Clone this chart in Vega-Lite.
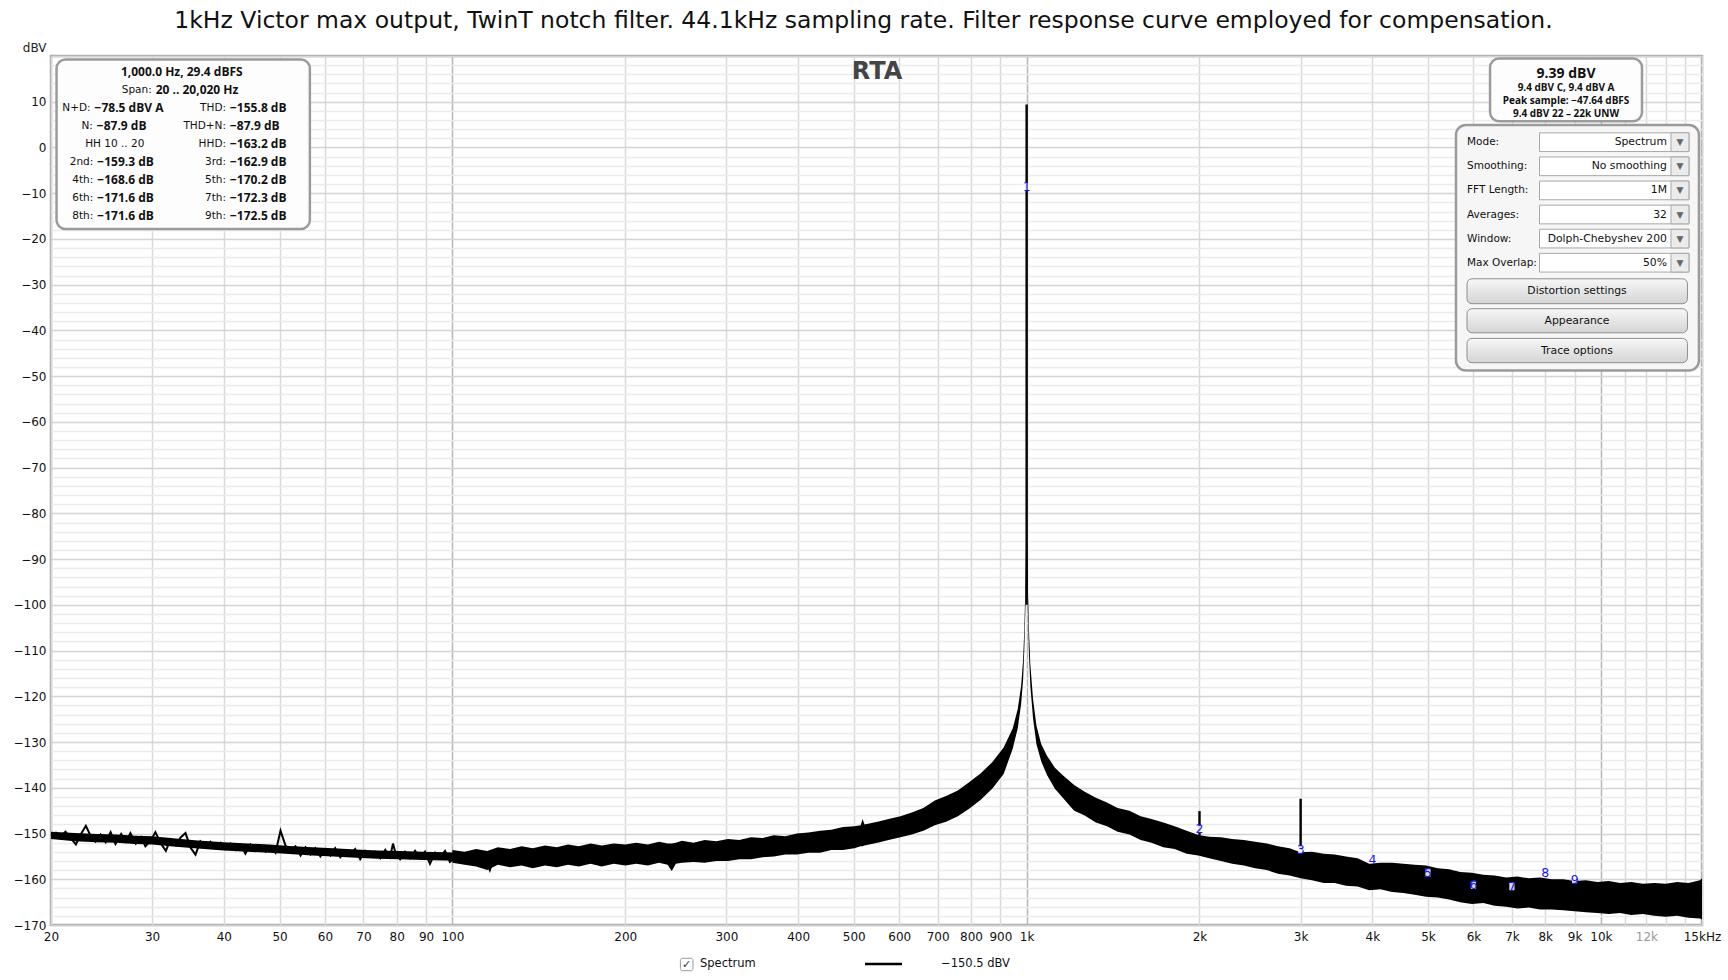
{
"$schema": "https://vega.github.io/schema/vega-lite/v6.json",
"width": 1651, "height": 869,
"autosize": {"type": "none"},
"padding": {"left": 51, "top": 56, "right": 26, "bottom": 55},
"background": "white",
"title": {"text": "1kHz Victor max output, TwinT notch filter. 44.1kHz sampling rate. Filter response curve employed for compensation.", "font": "DejaVu Sans", "fontSize": 23.5, "fontWeight": "normal", "color": "#111", "anchor": "middle", "frame": "group", "baseline": "alphabetic", "offset": -10, "dx": -13},
"config": {"view": {"stroke": "#a6a6a6", "strokeWidth": 2.5}, "font": "DejaVu Sans"},
"datasets": {
"core": [
{"f":20,"db":-149.6,"db2":-151.2},{"f":22,"db":-149.9,"db2":-151.7},{"f":24,"db":-150.1,"db2":-151.9},{"f":26,"db":-150.2,"db2":-152.0},{"f":28,"db":-150.5,"db2":-152.3},{"f":30,"db":-150.6,"db2":-152.4},{"f":33,"db":-151.1,"db2":-152.9},{"f":36,"db":-151.5,"db2":-153.3},{"f":40,"db":-151.9,"db2":-153.7},{"f":44,"db":-152.2,"db2":-154.0},{"f":48,"db":-152.4,"db2":-154.2},{"f":52,"db":-152.7,"db2":-154.5},{"f":57,"db":-153.0,"db2":-154.8},{"f":62,"db":-153.2,"db2":-155.0},{"f":68,"db":-153.5,"db2":-155.3},{"f":74,"db":-153.7,"db2":-155.5},{"f":81,"db":-153.8,"db2":-155.6},{"f":89,"db":-154.0,"db2":-155.8},{"f":97,"db":-154.1,"db2":-155.9},{"f":106,"db":-154.2,"db2":-156.0},{"f":116,"db":-154.4,"db2":-156.2}
],
"noise": [
{"f":20,"db":-150.3},{"f":20.4,"db":-149.8},{"f":20.8,"db":-150.6},{"f":21.2,"db":-149.6},{"f":21.6,"db":-150.9},{"f":22.1,"db":-152.4},{"f":22.5,"db":-150.3},{"f":23.0,"db":-148.3},{"f":23.5,"db":-150.8},{"f":23.9,"db":-151.8},{"f":24.4,"db":-150.2},{"f":24.9,"db":-151.9},{"f":25.4,"db":-149.7},{"f":25.9,"db":-152.3},{"f":26.5,"db":-150.1},{"f":27.0,"db":-151.8},{"f":27.5,"db":-149.9},{"f":28.1,"db":-152.2},{"f":28.7,"db":-150.8},{"f":29.2,"db":-152.8},{"f":29.8,"db":-151.6},{"f":30.4,"db":-149.7},{"f":31.0,"db":-152.0},{"f":31.7,"db":-153.8},{"f":32.3,"db":-151.3},{"f":33.0,"db":-152.6},{"f":33.6,"db":-150.9},{"f":34.3,"db":-149.9},{"f":35.0,"db":-153.1},{"f":35.7,"db":-154.6},{"f":36.4,"db":-151.7},{"f":37.2,"db":-152.8},{"f":37.9,"db":-151.8},{"f":38.7,"db":-153.2},{"f":39.5,"db":-152.0},{"f":40.3,"db":-153.4},{"f":41.1,"db":-152.2},{"f":41.9,"db":-153.6},{"f":42.8,"db":-152.4},{"f":43.6,"db":-154.4},{"f":44.5,"db":-152.4},{"f":45.4,"db":-153.8},{"f":46.3,"db":-152.6},{"f":47.3,"db":-154.0},{"f":48.2,"db":-152.8},{"f":49.2,"db":-154.2},{"f":50.2,"db":-149.4},{"f":51.2,"db":-152.6},{"f":52.2,"db":-153.8},{"f":53.3,"db":-152.8},{"f":54.4,"db":-154.8},{"f":55.5,"db":-153.0},{"f":56.6,"db":-154.6},{"f":57.7,"db":-153.2},{"f":58.9,"db":-155.0},{"f":60.1,"db":-153.4},{"f":61.3,"db":-154.8},{"f":62.5,"db":-153.2},{"f":63.8,"db":-155.2},{"f":65.1,"db":-153.8},{"f":66.4,"db":-154.6},{"f":67.7,"db":-153.4},{"f":69.1,"db":-155.6},{"f":70.5,"db":-153.8},{"f":71.9,"db":-155.0},{"f":73.4,"db":-154.0},{"f":74.9,"db":-155.4},{"f":76.4,"db":-153.6},{"f":77.9,"db":-155.2},{"f":78.8,"db":-152.2},{"f":79.5,"db":-154.0},{"f":81.1,"db":-155.6},{"f":82.7,"db":-154.0},{"f":84.4,"db":-155.4},{"f":86.1,"db":-153.8},{"f":87.8,"db":-155.4},{"f":89.6,"db":-154.0},{"f":91.4,"db":-156.6},{"f":93.3,"db":-154.2},{"f":95.2,"db":-155.2},{"f":97.1,"db":-153.8},{"f":99.0,"db":-156.2},{"f":101,"db":-155.4},{"f":103,"db":-154.4},{"f":105.1,"db":-156.0},{"f":107.3,"db":-154.4},{"f":109.4,"db":-155.8},{"f":111.6,"db":-154.6},{"f":113.9,"db":-155.4},{"f":116.2,"db":-158.0},{"f":118.5,"db":-154.8},{"f":120.9,"db":-156.2},{"f":123.4,"db":-154.6},{"f":125.9,"db":-156.6},{"f":128.4,"db":-154.8},{"f":131,"db":-156.4},{"f":133.7,"db":-154.6},{"f":136.4,"db":-156.4},{"f":139.1,"db":-154.8},{"f":141.9,"db":-156.6},{"f":144.8,"db":-154.6},{"f":147.7,"db":-156.6},{"f":150.7,"db":-155.0}
],
"band": [
{"f":100,"db":-153.6,"db2":-156.4},{"f":105,"db":-154.0,"db2":-156.8},{"f":110,"db":-153.4,"db2":-157.2},{"f":115,"db":-153.8,"db2":-158.0},{"f":120,"db":-153.0,"db2":-156.8},{"f":126,"db":-153.4,"db2":-157.4},{"f":132,"db":-152.8,"db2":-157.0},{"f":138,"db":-153.2,"db2":-157.6},{"f":145,"db":-152.6,"db2":-157.0},{"f":152,"db":-153.0,"db2":-157.4},{"f":159,"db":-152.4,"db2":-156.8},{"f":166,"db":-152.8,"db2":-157.2},{"f":174,"db":-152.2,"db2":-156.6},{"f":182,"db":-152.6,"db2":-157.2},{"f":191,"db":-152.2,"db2":-156.6},{"f":200,"db":-152.4,"db2":-157.0},{"f":209,"db":-152.0,"db2":-156.6},{"f":219,"db":-152.4,"db2":-157.0},{"f":229,"db":-151.8,"db2":-156.4},{"f":237,"db":-152.2,"db2":-156.8},{"f":241,"db":-152.2,"db2":-158.2},{"f":245,"db":-152.0,"db2":-156.6},{"f":251,"db":-151.6,"db2":-156.4},{"f":263,"db":-152.0,"db2":-156.2},{"f":275,"db":-151.4,"db2":-156.4},{"f":288,"db":-151.7,"db2":-156.0},{"f":302,"db":-151.2,"db2":-156.0},{"f":316,"db":-151.4,"db2":-155.6},{"f":331,"db":-150.8,"db2":-155.6},{"f":347,"db":-151.0,"db2":-155.2},{"f":363,"db":-150.4,"db2":-155.0},{"f":380,"db":-150.6,"db2":-154.6},{"f":398,"db":-150.0,"db2":-154.6},{"f":417,"db":-149.8,"db2":-154.2},{"f":437,"db":-149.4,"db2":-154.2},{"f":457,"db":-149.2,"db2":-153.6},{"f":479,"db":-148.6,"db2":-153.6},{"f":501,"db":-148.4,"db2":-153.2},{"f":514,"db":-148.2,"db2":-152.8},{"f":518,"db":-146.8,"db2":-152.8},{"f":522,"db":-148.0,"db2":-152.6},{"f":550,"db":-147.4,"db2":-152.0},{"f":575,"db":-146.8,"db2":-151.4},{"f":603,"db":-146.2,"db2":-150.8},{"f":631,"db":-145.4,"db2":-150.2},{"f":661,"db":-144.4,"db2":-149.4},{"f":692,"db":-142.8,"db2":-148.2},{"f":724,"db":-141.8,"db2":-147.4},{"f":759,"db":-140.6,"db2":-146.2},{"f":794,"db":-138.8,"db2":-144.6},{"f":832,"db":-136.8,"db2":-142.6},{"f":871,"db":-134.4,"db2":-140.2},{"f":912,"db":-131.2,"db2":-137.0},{"f":946,"db":-127.0,"db2":-131.4},{"f":965,"db":-122.8,"db2":-127.0},{"f":978,"db":-117.8,"db2":-121.8},{"f":986,"db":-112.0,"db2":-116.4},{"f":991,"db":-105.0,"db2":-109.4},{"f":995,"db":-96.0,"db2":-101.0},{"f":998,"db":-86.0,"db2":-95.0},{"f":1002,"db":-86.0,"db2":-95.0},{"f":1005,"db":-96.0,"db2":-101.0},{"f":1009,"db":-105.0,"db2":-110.0},{"f":1015,"db":-113.0,"db2":-117.8},{"f":1026,"db":-120.6,"db2":-124.8},{"f":1040,"db":-126.4,"db2":-130.4},{"f":1060,"db":-130.4,"db2":-134.2},{"f":1085,"db":-133.0,"db2":-137.2},{"f":1120,"db":-135.6,"db2":-140.2},{"f":1160,"db":-137.4,"db2":-142.4},{"f":1210,"db":-139.4,"db2":-145.0},{"f":1260,"db":-140.8,"db2":-146.0},{"f":1320,"db":-142.2,"db2":-147.6},{"f":1380,"db":-143.2,"db2":-148.4},{"f":1440,"db":-144.4,"db2":-149.6},{"f":1510,"db":-145.0,"db2":-150.2},{"f":1580,"db":-146.2,"db2":-151.4},{"f":1650,"db":-146.8,"db2":-152.0},{"f":1730,"db":-147.6,"db2":-153.0},{"f":1810,"db":-148.4,"db2":-153.4},{"f":1900,"db":-149.4,"db2":-154.4},{"f":1990,"db":-150.3,"db2":-154.8},{"f":2080,"db":-150.7,"db2":-155.4},{"f":2180,"db":-150.8,"db2":-156.0},{"f":2280,"db":-151.2,"db2":-156.6},{"f":2390,"db":-151.4,"db2":-157.0},{"f":2500,"db":-151.8,"db2":-157.6},{"f":2620,"db":-152.2,"db2":-158.0},{"f":2740,"db":-152.8,"db2":-158.8},{"f":2870,"db":-153.2,"db2":-159.2},{"f":3000,"db":-154.1,"db2":-159.8},{"f":3140,"db":-154.0,"db2":-160.2},{"f":3290,"db":-154.4,"db2":-160.8},{"f":3440,"db":-154.6,"db2":-160.8},{"f":3600,"db":-155.0,"db2":-161.4},{"f":3770,"db":-155.4,"db2":-161.6},{"f":3950,"db":-156.6,"db2":-162.4},{"f":4130,"db":-156.4,"db2":-162.2},{"f":4330,"db":-156.4,"db2":-162.8},{"f":4530,"db":-156.6,"db2":-163.0},{"f":4740,"db":-156.8,"db2":-163.4},{"f":4960,"db":-157.0,"db2":-163.8},{"f":5200,"db":-157.6,"db2":-164.0},{"f":5440,"db":-157.8,"db2":-164.4},{"f":5690,"db":-158.4,"db2":-165.0},{"f":5960,"db":-158.6,"db2":-165.4},{"f":6240,"db":-159.0,"db2":-165.2},{"f":6530,"db":-159.2,"db2":-165.8},{"f":6840,"db":-159.6,"db2":-166.0},{"f":7160,"db":-159.4,"db2":-166.4},{"f":7490,"db":-159.8,"db2":-166.2},{"f":7840,"db":-159.6,"db2":-166.6},{"f":8210,"db":-160.0,"db2":-166.6},{"f":8600,"db":-160.0,"db2":-166.8},{"f":9000,"db":-160.4,"db2":-167.0},{"f":9420,"db":-160.2,"db2":-167.2},{"f":9860,"db":-160.6,"db2":-167.4},{"f":10320,"db":-160.4,"db2":-167.6},{"f":10800,"db":-160.8,"db2":-167.4},{"f":11300,"db":-160.6,"db2":-167.8},{"f":11830,"db":-161.0,"db2":-167.6},{"f":12390,"db":-160.8,"db2":-168.0},{"f":12970,"db":-161.0,"db2":-168.2},{"f":13580,"db":-160.6,"db2":-168.0},{"f":14210,"db":-160.8,"db2":-168.4},{"f":14880,"db":-160.2,"db2":-168.6},{"f":15000,"db":-159.8,"db2":-168.8}
],
"spikes": [{"f":1000,"db":9.4,"db2":-100},{"f":2000,"db":-145.1,"db2":-150.5},{"f":3000,"db":-142.4,"db2":-153.5}],
"harm": [{"f":1000,"db":-8.57,"t":"1"},{"f":2000,"db":-149.1,"t":"2"},{"f":3000,"db":-153.5,"t":"3"},{"f":4000,"db":-155.7,"t":"4"},{"f":5000,"db":-158.6,"t":"5"},{"f":6000,"db":-161.3,"t":"6"},{"f":7000,"db":-161.6,"t":"7"},{"f":8000,"db":-158.6,"t":"8"},{"f":9000,"db":-160.1,"t":"9"}],
"rta": [{"f":548.8,"db":16.57,"t":"RTA"}],
"lbox": [{"f":20.45,"f2":56.47,"db":19.26,"db2":-17.83}],
"lb_cb": [{"f":33.79,"db":16.4,"t":"1,000.0 Hz, 29.4 dBFS"}],
"lb_cr": [{"f":25.83,"db":0.75,"t":"HH 10 .. 20"}],
"lb_lab": [
{"f":30.19,"db":12.49,"t":"Span:"},{"f":23.63,"db":8.57,"t":"N+D:"},{"f":40.67,"db":8.57,"t":"THD:"},{"f":23.84,"db":4.66,"t":"N:"},{"f":40.67,"db":4.66,"t":"THD+N:"},{"f":40.67,"db":0.75,"t":"HHD:"},{"f":23.89,"db":-3.17,"t":"2nd:"},{"f":40.67,"db":-3.17,"t":"3rd:"},{"f":23.89,"db":-7.08,"t":"4th:"},{"f":40.67,"db":-7.08,"t":"5th:"},{"f":23.89,"db":-10.99,"t":"6th:"},{"f":40.67,"db":-10.99,"t":"7th:"},{"f":23.89,"db":-14.9,"t":"8th:"},{"f":40.67,"db":-14.9,"t":"9th:"}],
"lb_val": [
{"f":30.19,"db":12.49,"t":"20 .. 20,020 Hz"},{"f":23.63,"db":8.57,"t":"−78.5 dBV A"},{"f":40.67,"db":8.57,"t":"−155.8 dB"},{"f":23.84,"db":4.66,"t":"−87.9 dB"},{"f":40.67,"db":4.66,"t":"−87.9 dB"},{"f":40.67,"db":0.75,"t":"−163.2 dB"},{"f":23.89,"db":-3.17,"t":"−159.3 dB"},{"f":40.67,"db":-3.17,"t":"−162.9 dB"},{"f":23.89,"db":-7.08,"t":"−168.6 dB"},{"f":40.67,"db":-7.08,"t":"−170.2 dB"},{"f":23.89,"db":-10.99,"t":"−171.6 dB"},{"f":40.67,"db":-10.99,"t":"−172.3 dB"},{"f":23.89,"db":-14.9,"t":"−171.6 dB"},{"f":40.67,"db":-14.9,"t":"−172.5 dB"}],
"tbox": [{"f":6412,"f2":11792,"db":19.48,"db2":5.72}],
"tb_big": [{"f":8696,"db":16.0,"t":"9.39 dBV"}],
"tb_small": [{"f":8696,"db":13.1,"t":"9.4 dBV C, 9.4 dBV A"},{"f":8696,"db":10.25,"t":"Peak sample: −47.64 dBFS"},{"f":8696,"db":7.4,"t":"9.4 dBV 22 – 22k UNW"}],
"panel": [{"f":5593,"f2":14818,"db":4.91,"db2":-48.76}],
"ddbox": [{"f":7818,"f2":14236,"db":3.197,"db2":-0.891},{"f":7818,"f2":14236,"db":-2.072,"db2":-6.16},{"f":7818,"f2":14236,"db":-7.341,"db2":-11.429},{"f":7818,"f2":14236,"db":-12.611,"db2":-16.699},{"f":7818,"f2":14236,"db":-17.88,"db2":-21.968},{"f":7818,"f2":14236,"db":-23.149,"db2":-27.237}],
"ddarrow": [{"f":13246,"f2":14236,"db":3.197,"db2":-0.891},{"f":13246,"f2":14236,"db":-2.072,"db2":-6.16},{"f":13246,"f2":14236,"db":-7.341,"db2":-11.429},{"f":13246,"f2":14236,"db":-12.611,"db2":-16.699},{"f":13246,"f2":14236,"db":-17.88,"db2":-21.968},{"f":13246,"f2":14236,"db":-23.149,"db2":-27.237}],
"ddglyph": [{"f":13732,"db":1.153,"t":"▼"},{"f":13732,"db":-4.116,"t":"▼"},{"f":13732,"db":-9.385,"t":"▼"},{"f":13732,"db":-14.655,"t":"▼"},{"f":13732,"db":-19.924,"t":"▼"},{"f":13732,"db":-25.193,"t":"▼"}],
"ddlab": [{"f":5846,"db":1.153,"t":"Mode:"},{"f":5846,"db":-4.116,"t":"Smoothing:"},{"f":5846,"db":-9.385,"t":"FFT Length:"},{"f":5846,"db":-14.655,"t":"Averages:"},{"f":5846,"db":-19.924,"t":"Window:"},{"f":5846,"db":-25.193,"t":"Max Overlap:"}],
"ddval": [{"f":13034,"db":1.153,"t":"Spectrum"},{"f":13034,"db":-4.116,"t":"No  smoothing"},{"f":13034,"db":-9.385,"t":"1M"},{"f":13034,"db":-14.655,"t":"32"},{"f":13034,"db":-19.924,"t":"Dolph-Chebyshev 200"},{"f":13034,"db":-25.193,"t":"50%"}],
"btn": [{"f":5846,"f2":14150,"db":-28.71,"db2":-34.16},{"f":5846,"f2":14150,"db":-35.25,"db2":-40.52},{"f":5846,"f2":14150,"db":-41.74,"db2":-47.06}],
"btntext": [{"f":9088,"db":-31.44,"t":"Distortion settings"},{"f":9088,"db":-37.89,"t":"Appearance"},{"f":9088,"db":-44.4,"t":"Trace options"}],
"chk": [{"f":249.5,"f2":262.4,"db":-177.28,"db2":-179.99}],
"chkglyph": [{"f":255.9,"db":-178.64,"t":"✓"}],
"legtext": [{"f":269.9,"db":-178.6,"t":"Spectrum"},{"f":709.5,"db":-178.6,"t":"−150.5 dBV"}],
"legline": [{"f":523,"f2":606.7,"db":-178.53}]
},
"encoding": {
"x": {"field": "f", "type": "quantitative", "title": null,
 "scale": {"type": "log", "domain": [20, 15000], "nice": false},
 "axis": {"values": [20,30,40,50,60,70,80,90,100,200,300,400,500,600,700,800,900,1000,2000,3000,4000,5000,6000,7000,8000,9000,10000,11000,12000,13000,14000,14999.5],
  "tickCount": 200,
  "labelExpr": "datum.value == 11000 || datum.value == 13000 || datum.value == 14000 ? '' : datum.value > 14500 ? '15kHz' : datum.value >= 1000 ? (datum.value / 1000) + 'k' : '' + datum.value",
  "labelColor": {"expr": "datum.value == 12000 ? '#999999' : '#111111'"},
  "gridColor": {"expr": "datum.value == 100 || datum.value == 1000 || datum.value == 10000 ? '#b6b6b6' : '#d9d9d9'"},
  "gridWidth": 1.5, "ticks": false, "domain": false, "labelPadding": 6, "labelBaseline": "top",
  "labelFontSize": 12, "labelFont": "DejaVu Sans", "labelFlush": false, "labelOverlap": false}},
"y": {"field": "db", "type": "quantitative", "title": "dBV",
 "scale": {"domain": [-170, 20], "nice": false, "zero": false},
 "axis": {"values": [-170,-168,-166,-164,-162,-160,-158,-156,-154,-152,-150,-148,-146,-144,-142,-140,-138,-136,-134,-132,-130,-128,-126,-124,-122,-120,-118,-116,-114,-112,-110,-108,-106,-104,-102,-100,-98,-96,-94,-92,-90,-88,-86,-84,-82,-80,-78,-76,-74,-72,-70,-68,-66,-64,-62,-60,-58,-56,-54,-52,-50,-48,-46,-44,-42,-40,-38,-36,-34,-32,-30,-28,-26,-24,-22,-20,-18,-16,-14,-12,-10,-8,-6,-4,-2,0,2,4,6,8,10,12,14,16,18,20],
  "tickCount": 300, "format": "d",
  "labelExpr": "datum.value % 10 == 0 && datum.value < 20 ? datum.label : ''",
  "gridColor": {"expr": "datum.value % 10 == 0 ? '#d4d4d4' : '#ebebeb'"},
  "gridWidth": {"expr": "datum.value % 10 == 0 ? 1.6 : 1.3"},
  "ticks": false, "domain": false, "labelPadding": 5, "labelFontSize": 12, "labelColor": "#111111", "labelFont": "DejaVu Sans", "labelOverlap": false,
  "titleAngle": 0, "titleAlign": "right", "titleBaseline": "middle", "titleX": -5, "titleY": -9, "titleFontWeight": "normal", "titleFontSize": 12, "titleColor": "#222222", "titleFont": "DejaVu Sans"}}
},
"layer": [
{"data": {"name": "band"}, "mark": {"type": "area", "color": "#000000", "orient": "vertical"}, "encoding": {"y2": {"field": "db2"}}},
{"data": {"name": "core"}, "mark": {"type": "area", "color": "#000000", "orient": "vertical"}, "encoding": {"y2": {"field": "db2"}}},
{"data": {"name": "noise"}, "mark": {"type": "line", "color": "#000000", "strokeWidth": 2}},
{"data": {"name": "spikes"}, "mark": {"type": "rule", "color": "#000000", "strokeWidth": 2.4}, "encoding": {"y2": {"field": "db2"}}},
{"data": {"name": "harm"}, "mark": {"type": "point", "shape": "M-0.36,-0.5H0.36V0.5H-0.36Z", "size": 210, "filled": true, "fill": "#ffffff", "fillOpacity": 0.85, "strokeWidth": 0}},
{"data": {"name": "harm"}, "mark": {"type": "text", "color": "#1414ff", "fontSize": 12.5, "align": "center", "baseline": "middle", "font": "DejaVu Sans"}, "encoding": {"text": {"field": "t"}}},
{"data": {"name": "rta"}, "mark": {"type": "text", "color": "#444444", "fontSize": 24, "fontWeight": "bold", "align": "center", "baseline": "middle", "font": "DejaVu Sans"}, "encoding": {"text": {"field": "t"}}},
{"data": {"name": "lbox"}, "mark": {"type": "rect", "fill": "#fdfdfd", "stroke": "#9b9b9b", "strokeWidth": 2.5, "cornerRadius": 9}, "encoding": {"x2": {"field": "f2"}, "y2": {"field": "db2"}}},
{"data": {"name": "lb_cb"}, "mark": {"type": "text", "color": "#111111", "fontSize": 12, "fontWeight": "bold", "font": "Open Sans", "align": "center", "baseline": "middle"}, "encoding": {"text": {"field": "t"}}},
{"data": {"name": "lb_cr"}, "mark": {"type": "text", "color": "#111111", "fontSize": 10.5, "font": "DejaVu Sans", "align": "center", "baseline": "middle"}, "encoding": {"text": {"field": "t"}}},
{"data": {"name": "lb_lab"}, "mark": {"type": "text", "color": "#111111", "fontSize": 10.5, "font": "DejaVu Sans", "align": "right", "baseline": "middle", "dx": -2}, "encoding": {"text": {"field": "t"}}},
{"data": {"name": "lb_val"}, "mark": {"type": "text", "color": "#111111", "fontSize": 12, "fontWeight": "bold", "font": "Open Sans", "align": "left", "baseline": "middle", "dx": 2}, "encoding": {"text": {"field": "t"}}},
{"data": {"name": "tbox"}, "mark": {"type": "rect", "fill": "#fdfdfd", "stroke": "#9b9b9b", "strokeWidth": 2.5, "cornerRadius": 9}, "encoding": {"x2": {"field": "f2"}, "y2": {"field": "db2"}}},
{"data": {"name": "tb_big"}, "mark": {"type": "text", "color": "#111111", "fontSize": 14, "fontWeight": "bold", "font": "Open Sans", "align": "center", "baseline": "middle"}, "encoding": {"text": {"field": "t"}}},
{"data": {"name": "tb_small"}, "mark": {"type": "text", "color": "#111111", "fontSize": 10, "fontWeight": "bold", "font": "Open Sans", "align": "center", "baseline": "middle"}, "encoding": {"text": {"field": "t"}}},
{"data": {"name": "panel"}, "mark": {"type": "rect", "fill": "#f6f6f6", "stroke": "#9b9b9b", "strokeWidth": 2.5, "cornerRadius": 10}, "encoding": {"x2": {"field": "f2"}, "y2": {"field": "db2"}}},
{"data": {"name": "ddbox"}, "mark": {"type": "rect", "fill": "#ffffff", "stroke": "#a8a8a8", "strokeWidth": 1}, "encoding": {"x2": {"field": "f2"}, "y2": {"field": "db2"}}},
{"data": {"name": "ddarrow"}, "mark": {"type": "rect", "fill": "#ebebeb", "stroke": "#a8a8a8", "strokeWidth": 1}, "encoding": {"x2": {"field": "f2"}, "y2": {"field": "db2"}}},
{"data": {"name": "ddglyph"}, "mark": {"type": "text", "color": "#666666", "fontSize": 9, "align": "center", "baseline": "middle", "font": "DejaVu Sans"}, "encoding": {"text": {"field": "t"}}},
{"data": {"name": "ddlab"}, "mark": {"type": "text", "color": "#111111", "fontSize": 10.5, "align": "left", "baseline": "middle", "font": "DejaVu Sans"}, "encoding": {"text": {"field": "t"}}},
{"data": {"name": "ddval"}, "mark": {"type": "text", "color": "#111111", "fontSize": 10.8, "align": "right", "baseline": "middle", "font": "DejaVu Sans"}, "encoding": {"text": {"field": "t"}}},
{"data": {"name": "btn"}, "mark": {"type": "rect", "fill": {"gradient": "linear", "x1": 0, "y1": 0, "x2": 0, "y2": 1, "stops": [{"offset": 0, "color": "#f7f7f7"}, {"offset": 1, "color": "#d4d4d4"}]}, "stroke": "#8e8e8e", "strokeWidth": 1, "cornerRadius": 5}, "encoding": {"x2": {"field": "f2"}, "y2": {"field": "db2"}}},
{"data": {"name": "btntext"}, "mark": {"type": "text", "color": "#111111", "fontSize": 10.8, "align": "center", "baseline": "middle", "font": "DejaVu Sans"}, "encoding": {"text": {"field": "t"}}},
{"data": {"name": "chk"}, "mark": {"type": "rect", "fill": "#ffffff", "stroke": "#9a9a9a", "strokeWidth": 1, "cornerRadius": 2}, "encoding": {"x2": {"field": "f2"}, "y2": {"field": "db2"}}},
{"data": {"name": "chkglyph"}, "mark": {"type": "text", "color": "#333333", "fontSize": 11, "align": "center", "baseline": "middle", "font": "DejaVu Sans"}, "encoding": {"text": {"field": "t"}}},
{"data": {"name": "legtext"}, "mark": {"type": "text", "color": "#111111", "fontSize": 11.5, "align": "left", "baseline": "middle", "font": "DejaVu Sans"}, "encoding": {"text": {"field": "t"}}},
{"data": {"name": "legline"}, "mark": {"type": "rule", "color": "#000000", "strokeWidth": 2.5}, "encoding": {"x2": {"field": "f2"}}}
]
}
